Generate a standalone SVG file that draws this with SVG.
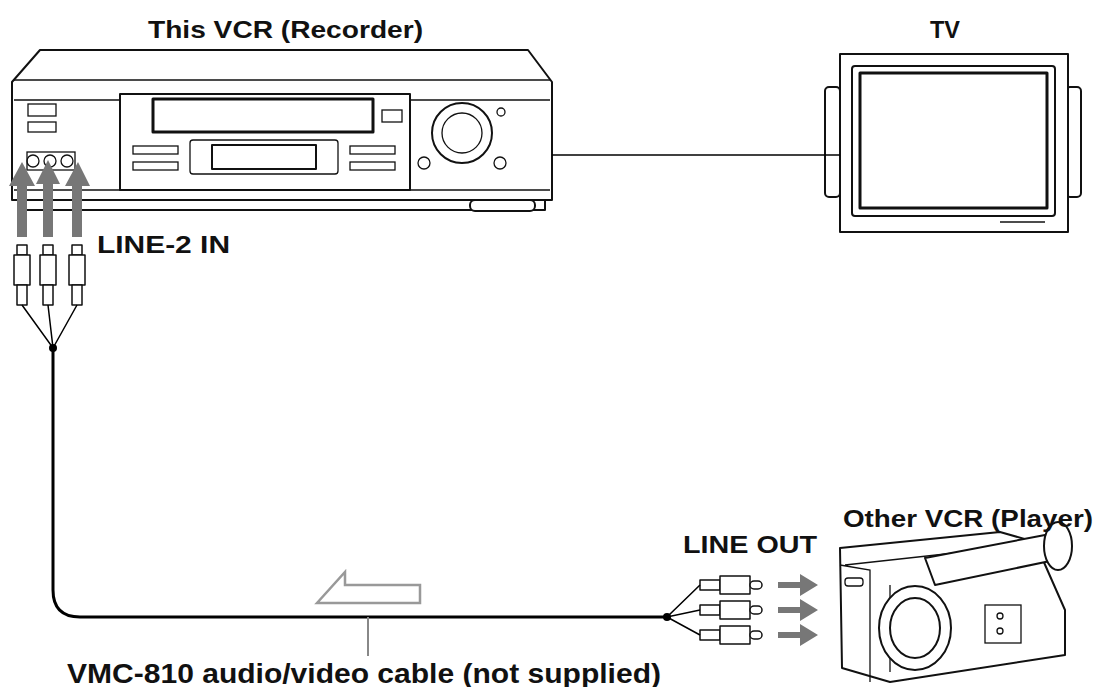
<svg xmlns="http://www.w3.org/2000/svg" width="1101" height="687" viewBox="0 0 1101 687">
<style>
.l{fill:#fff;stroke:#111;stroke-width:2;stroke-linejoin:round}
.t{fill:none;stroke:#111;stroke-width:1.3}
.c{fill:none;stroke:#000;stroke-width:3}
.w{fill:none;stroke:#000;stroke-width:1.5}
.g{fill:#777}
text{font-family:"Liberation Sans",Arial,sans-serif;font-weight:bold;fill:#111;font-size:24px}
</style>
<rect width="1101" height="687" fill="#fff"/>
<g id="vcr">
<path class="l" d="M40 50 L528 50 L552 82 L552 200 L12 200 L12 82 Z"/>
<path class="t" d="M14 80 L550 80 M14 100 L550 100 M14 190 L550 190"/>
<path class="l" d="M20 200 L545 200 L545 210 L20 210 Z"/>
<rect class="l" x="470" y="200" width="65" height="11" rx="5"/>
<rect class="l" x="120" y="94" width="290" height="96"/>
<rect class="l" x="153" y="99" width="220" height="33" style="stroke-width:3"/>
<rect class="t" x="382" y="110" width="20" height="12"/>
<rect class="t" x="190" y="140" width="148" height="34" rx="3"/>
<rect class="l" x="212" y="145" width="104" height="24"/>
<rect class="t" x="133" y="146" width="45" height="8"/><rect class="t" x="133" y="162" width="45" height="8"/>
<rect class="t" x="350" y="146" width="45" height="8"/><rect class="t" x="350" y="162" width="45" height="8"/>
<rect class="t" x="28" y="104" width="28" height="12"/><rect class="t" x="28" y="122" width="28" height="10"/>
<circle class="l" cx="462" cy="133" r="30"/><circle class="t" cx="462" cy="133" r="20"/>
<circle class="t" cx="424" cy="163" r="6"/><circle class="t" cx="500" cy="163" r="6"/><circle class="t" cx="501" cy="112" r="4"/>
<rect class="t" x="27" y="152" width="48" height="18"/>
<circle class="t" cx="33" cy="161" r="6"/><circle class="t" cx="50" cy="161" r="6"/><circle class="t" cx="67" cy="161" r="6"/>
</g>
<g id="tv">
<rect class="l" x="825" y="87" width="15" height="110" rx="4"/>
<rect class="l" x="1066" y="87" width="15" height="110" rx="4"/>
<path class="l" d="M840 54 L1068 54 L1068 232 L840 232 Z"/>
<rect class="l" x="852" y="66" width="203" height="150" rx="3"/>
<rect class="l" x="860" y="73" width="187" height="135" style="stroke-width:3"/>
<line class="t" x1="1000" y1="222" x2="1045" y2="222"/>
</g>
<g id="camcorder">
<path class="l" d="M840 548 L1000 532 L1035 542 L1065 610 L1065 655 L890 682 L842 668 Z"/>
<path class="t" d="M845 565 L1000 548 M890 585 L890 672 M840 565 L870 570 L870 682"/>
<rect class="t" x="845" y="578" width="18" height="8" rx="3"/>
<path class="l" d="M925 558 L1045 535 L1055 560 L935 585 Z"/>
<ellipse class="l" cx="1058" cy="546" rx="14" ry="24"/>
<ellipse class="l" cx="915" cy="628" rx="36" ry="42"/><ellipse class="l" cx="915" cy="628" rx="25" ry="30"/>
<rect class="t" x="985" y="605" width="36" height="38"/>
<circle class="t" cx="1000" cy="616" r="3"/><circle class="t" cx="1000" cy="631" r="3"/>
</g>
<g id="connectors">
<line class="w" x1="552" y1="155" x2="840" y2="155"/>
<g class="g">
<path d="M17 237 L17 186 L9 186 L22 162 L35 186 L27 186 L27 237 Z"/>
<path d="M43 237 L43 184 L36 184 L48 160 L60 184 L53 184 L53 237 Z"/>
<path d="M72 237 L72 186 L65 186 L78 162 L90 186 L82 186 L82 237 Z"/>
<path d="M778 580 L800 580 L800 572 L818 583 L800 594 L800 586 L778 586 Z" transform="translate(0,2)"/>
<path d="M778 580 L800 580 L800 572 L818 583 L800 594 L800 586 L778 586 Z" transform="translate(0,27)"/>
<path d="M778 580 L800 580 L800 572 L818 583 L800 594 L800 586 L778 586 Z" transform="translate(0,52)"/>
</g>
<g class="l" style="stroke-width:1.5">
<rect x="17" y="245" width="10" height="10"/><rect x="14" y="255" width="16" height="30"/><rect x="17" y="285" width="10" height="20"/>
<rect x="43" y="245" width="10" height="10"/><rect x="40" y="255" width="16" height="30"/><rect x="43" y="285" width="10" height="20"/>
<rect x="72" y="245" width="10" height="10"/><rect x="69" y="255" width="16" height="30"/><rect x="72" y="285" width="10" height="20"/>
<rect x="700" y="580" width="20" height="10"/><rect x="720" y="576" width="30" height="18"/><rect x="750" y="581" width="12" height="8" rx="4"/>
<rect x="700" y="605" width="20" height="10"/><rect x="720" y="601" width="30" height="18"/><rect x="750" y="606" width="12" height="8" rx="4"/>
<rect x="700" y="630" width="20" height="10"/><rect x="720" y="626" width="30" height="18"/><rect x="750" y="631" width="12" height="8" rx="4"/>
</g>
<path class="w" d="M22 305 L53 348 L48 305 M53 348 L77 305"/>
<circle cx="53" cy="348" r="4"/>
<path class="c" d="M53 348 L53 590 Q53 617 80 617 L667 617"/>
<path class="w" d="M700 585 L667 617 L700 610 M667 617 L700 635"/>
<circle cx="667" cy="617" r="4"/>
<path fill="#fff" stroke="#999" stroke-width="2.5" d="M317 603 L345 572 L345 585 L420 585 L420 603 Z"/>
<line x1="368" y1="617" x2="368" y2="656" stroke="#888" stroke-width="2"/>
</g>
<text x="148" y="38" textLength="275" lengthAdjust="spacingAndGlyphs">This VCR (Recorder)</text>
<text x="930" y="38" textLength="30" lengthAdjust="spacingAndGlyphs">TV</text>
<text x="97" y="253" textLength="133" lengthAdjust="spacingAndGlyphs">LINE-2 IN</text>
<text x="843" y="527" textLength="250" lengthAdjust="spacingAndGlyphs">Other VCR (Player)</text>
<text x="683" y="553" textLength="134" lengthAdjust="spacingAndGlyphs">LINE OUT</text>
<text x="67" y="683" style="font-size:27px" textLength="594" lengthAdjust="spacingAndGlyphs">VMC-810 audio/video cable (not supplied)</text>
</svg>
